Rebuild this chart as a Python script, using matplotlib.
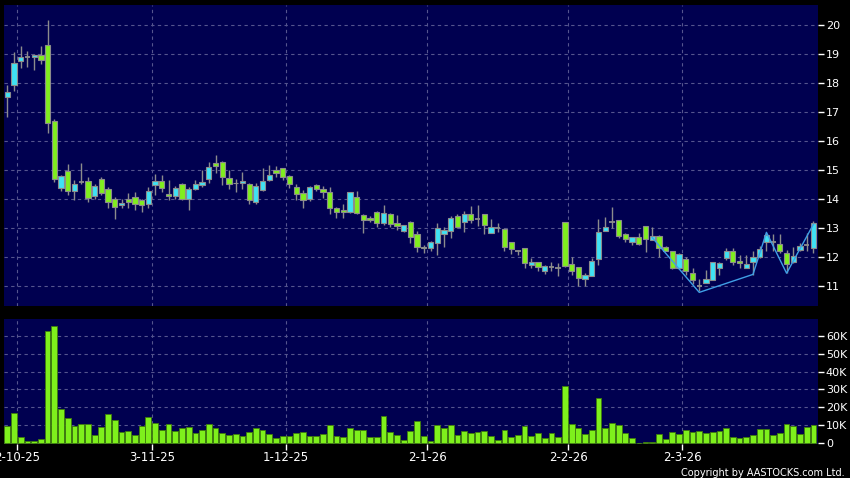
import matplotlib.pyplot as plt
import numpy as np

# daily candles, oldest first (one per trading day)
opens = [17.54, 17.93, 18.78, 18.91, 18.92, 18.97, 19.31, 16.69, 14.38, 14.99,
         14.28, 14.61, 14.64, 14.10, 14.69, 14.37, 14.02, 13.79, 14.00, 14.09,
         13.97, 13.83, 14.48, 14.62, 14.17, 14.12, 14.52, 14.00, 14.37, 14.50,
         14.71, 15.25, 15.30, 14.75, 14.57, 14.55, 14.51, 13.92, 14.33, 14.66,
         15.00, 15.07, 14.79, 14.41, 14.21, 14.02, 14.49, 14.34, 14.24, 13.69,
         13.62, 13.56, 14.09, 13.45, 13.36, 13.55, 13.18, 13.48, 13.18, 12.92,
         13.23, 12.79, 12.37, 12.31, 12.48, 12.82, 12.89, 13.44, 13.21, 13.48,
         13.31, 13.48, 12.83, 13.00, 12.97, 12.54, 12.22, 12.31, 11.72, 11.83,
         11.53, 11.68, 11.62, 13.21, 11.76, 11.66, 11.24, 11.37, 11.94, 12.92,
         13.21, 13.28, 12.79, 12.54, 12.71, 13.09, 12.61, 12.75, 12.37, 12.23,
         11.64, 11.93, 11.45, 11.01, 11.13, 11.21, 11.62, 11.99, 12.20, 11.87,
         11.62, 11.85, 12.02, 12.52, 12.52, 12.45, 12.14, 11.83, 12.25, 12.43,
         12.31]
highs = [17.94, 19.08, 19.29, 19.11, 19.00, 19.29, 20.17, 16.76, 14.84, 15.21,
         14.66, 15.26, 14.78, 14.51, 14.78, 14.43, 14.09, 14.00, 14.21, 14.24,
         14.00, 14.43, 14.87, 14.84, 14.67, 14.47, 14.56, 14.41, 14.65, 15.01,
         15.30, 15.53, 15.32, 15.00, 14.69, 14.94, 14.57, 14.57, 15.07, 15.18,
         15.15, 15.07, 14.84, 14.52, 14.31, 14.46, 14.54, 14.47, 14.43, 13.74,
         13.83, 14.24, 14.29, 13.48, 13.43, 13.60, 13.80, 13.53, 13.45, 13.12,
         13.25, 12.89, 12.43, 12.56, 13.17, 13.06, 13.44, 13.48, 13.60, 13.77,
         13.80, 13.48, 13.32, 13.17, 13.00, 12.54, 12.25, 12.31, 11.99, 11.85,
         11.74, 11.85, 11.79, 13.23, 12.02, 11.66, 11.45, 11.97, 13.32, 13.40,
         13.75, 13.28, 12.83, 12.71, 12.83, 13.09, 13.06, 12.77, 12.40, 12.23,
         12.14, 12.00, 11.62, 11.25, 11.56, 11.85, 11.85, 12.33, 12.31, 12.08,
         12.08, 12.20, 12.40, 12.83, 12.79, 12.79, 12.25, 12.37, 12.50, 12.83,
         13.25]
lows = [16.84, 17.74, 18.54, 18.56, 18.46, 18.68, 16.28, 14.61, 14.29, 14.14,
        13.97, 14.54, 13.92, 14.02, 14.14, 13.69, 13.33, 13.69, 13.69, 13.63,
        13.55, 13.69, 14.15, 14.24, 13.97, 14.00, 13.97, 13.63, 14.33, 14.43,
        14.57, 14.90, 14.50, 14.34, 14.26, 14.37, 13.83, 13.85, 14.29, 14.63,
        14.77, 14.66, 14.40, 13.99, 13.71, 13.94, 14.29, 14.06, 13.48, 13.37,
        13.37, 13.54, 13.48, 12.83, 13.20, 13.05, 13.11, 13.05, 12.95, 12.88,
        12.48, 12.17, 12.14, 12.22, 12.08, 12.34, 12.68, 13.02, 12.86, 13.18,
        13.08, 12.80, 12.83, 12.86, 12.23, 12.11, 12.08, 11.62, 11.64, 11.53,
        11.41, 11.51, 11.37, 11.68, 11.39, 11.02, 11.02, 11.37, 11.74, 12.90,
        13.00, 12.66, 12.54, 12.43, 12.43, 12.17, 12.60, 12.02, 12.20, 11.60,
        11.60, 11.39, 11.07, 10.85, 11.11, 11.21, 11.39, 11.91, 11.74, 11.62,
        11.62, 11.39, 11.99, 12.20, 12.20, 12.14, 11.45, 11.80, 12.20, 12.20,
        12.14]
closes = [17.70, 18.69, 18.90, 18.91, 18.98, 18.79, 16.62, 14.69, 14.79, 14.29,
          14.51, 14.61, 14.06, 14.46, 14.23, 13.89, 13.72, 13.86, 13.92, 13.84,
          13.79, 14.28, 14.62, 14.38, 14.10, 14.38, 14.00, 14.34, 14.52, 14.60,
          15.10, 15.16, 14.76, 14.51, 14.56, 14.63, 13.97, 14.45, 14.62, 14.83,
          14.89, 14.78, 14.52, 14.17, 13.97, 14.41, 14.36, 14.24, 13.69, 13.55,
          13.56, 14.24, 13.52, 13.28, 13.28, 13.17, 13.53, 13.14, 13.09, 13.10,
          12.69, 12.37, 12.31, 12.52, 13.00, 12.94, 13.34, 13.06, 13.48, 13.29,
          13.31, 13.10, 13.03, 13.00, 12.34, 12.28, 12.22, 11.79, 11.83, 11.66,
          11.70, 11.68, 11.62, 11.71, 11.51, 11.28, 11.39, 11.87, 12.86, 13.03,
          13.21, 12.75, 12.62, 12.69, 12.45, 12.63, 12.72, 12.31, 12.23, 11.62,
          12.10, 11.54, 11.21, 11.01, 11.25, 11.85, 11.79, 12.20, 11.83, 11.79,
          11.76, 12.02, 12.28, 12.77, 12.52, 12.20, 11.76, 12.06, 12.39, 12.43,
          13.17]
volumes_k = [9.6, 16.7, 3.5, 1.1, 1.1, 2.4, 62.4, 65.6, 19.1, 14.1,
             9.6, 10.6, 10.6, 4.8, 9.1, 16.1, 13.1, 6.5, 6.7, 4.6,
             9.8, 14.8, 11.3, 7.4, 10.6, 6.7, 8.7, 9.1, 5.7, 7.2,
             10.6, 8.5, 5.7, 4.6, 5.4, 3.9, 6.1, 8.5, 7.2, 5.0,
             2.8, 3.9, 4.1, 5.9, 6.1, 4.1, 4.3, 5.0, 10.2, 4.3,
             3.3, 8.3, 7.4, 7.2, 3.7, 3.3, 15.2, 6.3, 4.6, 1.7,
             6.7, 12.2, 4.1, 1.5, 10.0, 8.7, 10.0, 4.6, 6.9, 5.6,
             6.1, 6.9, 4.3, 1.9, 7.2, 3.7, 4.8, 9.6, 3.9, 5.7,
             3.0, 5.7, 3.5, 32.0, 10.6, 8.7, 5.4, 7.6, 25.4, 8.7,
             11.5, 10.0, 5.7, 3.0, 0.2, 0.9, 0.6, 5.2, 2.4, 6.1,
             5.2, 7.4, 6.5, 6.7, 5.6, 6.3, 6.7, 8.5, 3.7, 2.8,
             3.7, 4.8, 8.0, 8.0, 4.8, 5.7, 10.7, 9.4, 5.2, 9.3,
             10.0]

date_labels = ["2-10-25", "3-11-25", "1-12-25", "2-1-26", "2-2-26", "2-3-26"]
date_index = [1, 21, 41, 62, 83, 100]

# pattern line drawn over the last weeks
pattern_index = [96, 103, 111, 113, 116, 120]
pattern_price = [12.68, 10.79, 11.41, 12.86, 11.45, 13.14]

price_ticks = list(range(11, 21))
volume_ticks = [0, 10, 20, 30, 40, 50, 60]
volume_tick_labels = ["0", "10K", "20K", "30K", "40K", "50K", "60K"]

UP = "#3fe2f4"
DOWN = "#80ee1e"
EDGE = "#8c8c8c"
PANEL = "#000050"
GRID = "#55558e"

fig = plt.figure(figsize=(8.5, 4.78), dpi=100, facecolor="black")
ax = fig.add_axes([4 / 850, 1 - 306 / 478, 813.5 / 850, 301 / 478])
axv = fig.add_axes([4 / 850, 1 - 444 / 478, 813.5 / 850, 125 / 478], sharex=ax)

for a in (ax, axv):
    a.set_facecolor(PANEL)
    for s in a.spines.values():
        s.set_visible(False)
    a.yaxis.tick_right()
    a.tick_params(axis="y", direction="out", length=4, width=1, colors="white",
                  labelsize=8, pad=2)
    a.grid(True, linestyle=(0, (3, 3)), color=GRID, linewidth=0.8)
    a.set_axisbelow(True)

x = np.arange(len(opens))
o = np.array(opens)
h = np.array(highs)
l = np.array(lows)
c = np.array(closes)
up = c > o
down = c < o
flat = c == o

ax.vlines(x, l, h, color=EDGE, linewidth=1, zorder=2)
ax.bar(x[up], (c - o)[up], bottom=o[up], width=0.78, color=UP,
       edgecolor=EDGE, linewidth=0.8, zorder=3)
ax.bar(x[down], (c - o)[down], bottom=o[down], width=0.78, color=DOWN,
       edgecolor=EDGE, linewidth=0.8, zorder=3)
ax.hlines(c[flat], x[flat] - 0.4, x[flat] + 0.4, color=EDGE, linewidth=1.3, zorder=3)
ax.plot(pattern_index, pattern_price, color="#3f9fe6", linewidth=1, zorder=4)

ax.set_ylim(10.32, 20.70)
ax.set_yticks(price_ticks)
ax.set_xlim(-0.49, 120.6)
ax.set_xticks(np.array(date_index) + 0.5)
ax.tick_params(axis="x", bottom=False, labelbottom=False)

axv.bar(x, volumes_k, width=0.86, color="#7ef01c", edgecolor="#3f7c0c",
        linewidth=0.6, zorder=3)
axv.set_ylim(-0.4, 69.3)
axv.set_yticks(volume_ticks)
axv.set_yticklabels(volume_tick_labels)
axv.set_xticklabels(date_labels)
axv.tick_params(axis="x", direction="out", length=4, width=1, colors="white",
                labelsize=8.5, pad=1)

fig.text(0.994, 0.001, "Copyright by AASTOCKS.com Ltd.", ha="right", va="bottom",
         color="white", fontsize=7)

fig.savefig("out.png", dpi=100, facecolor="black")
